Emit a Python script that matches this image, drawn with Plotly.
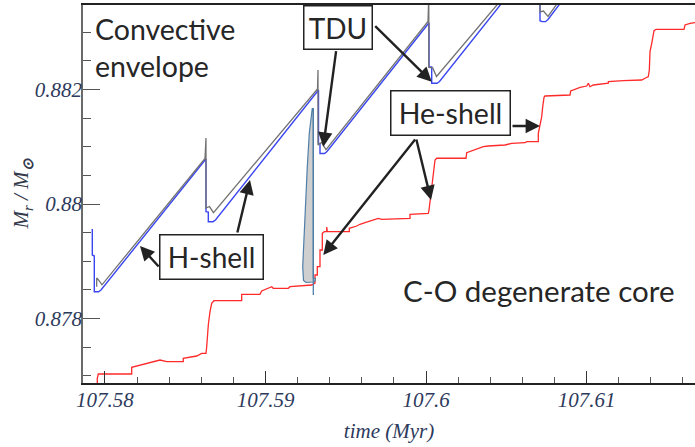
import plotly.graph_objects as go

# ---------------- data (time in Myr, mass coordinate in Msun) ----------------
core_t = [107.579520, 107.579520, 107.579583, 107.581663, 107.581663, 107.582074, 107.582598,
          107.583009, 107.583426, 107.583843, 107.584877, 107.584877, 107.585712, 107.586023,
          107.586291, 107.586335, 107.586372, 107.586435, 107.586540, 107.586646, 107.586790,
          107.588515, 107.588515, 107.589655, 107.589761, 107.590384, 107.590483, 107.591418,
          107.591524, 107.592875, 107.593081, 107.593081, 107.593224, 107.593224, 107.593392,
          107.593392, 107.593536, 107.593536, 107.593660, 107.593810, 107.593810, 107.593847,
          107.595218, 107.595218, 107.595678, 107.595884, 107.596195, 107.596507, 107.597024,
          107.597236, 107.598998, 107.598998, 107.600138, 107.600182, 107.600244, 107.600307,
          107.600450, 107.600556, 107.600662, 107.602487, 107.602530, 107.602842, 107.603253,
          107.603564, 107.603876, 107.604916, 107.605333, 107.606162, 107.606268, 107.606990,
          107.606990, 107.607096, 107.607202, 107.607264, 107.607346, 107.607408, 107.608965,
          107.609008, 107.609276, 107.609588, 107.610005, 107.610105, 107.610211, 107.610416,
          107.611351, 107.611351, 107.612285, 107.613431, 107.613637, 107.613842, 107.613905,
          107.613948, 107.614054, 107.614197, 107.614322, 107.616066, 107.616128, 107.616440,
          107.616876]
core_m = [0.876871, 0.876958, 0.877033, 0.877033, 0.877150, 0.877178, 0.877208,
          0.877248, 0.877277, 0.877248, 0.877248, 0.877307, 0.877347, 0.877394,
          0.877394, 0.877509, 0.877656, 0.877888, 0.878120, 0.878267, 0.878312,
          0.878312, 0.878424, 0.878424, 0.878482, 0.878557, 0.878529, 0.878529,
          0.878557, 0.878586, 0.878621, 0.878761, 0.878761, 0.878906, 0.878906,
          0.879197, 0.879197, 0.879489, 0.879517, 0.879517, 0.879599, 0.879517,
          0.879517, 0.879576, 0.879616, 0.879646, 0.879674, 0.879703, 0.879750,
          0.879733, 0.879750, 0.879820, 0.879838, 0.879895, 0.880052, 0.880127,
          0.880564, 0.880768, 0.880798, 0.880798, 0.880895, 0.880930, 0.880972,
          0.881000, 0.881012, 0.881030, 0.881059, 0.881070, 0.881087, 0.881087,
          0.881234, 0.881379, 0.881524, 0.881698, 0.881862, 0.881885, 0.881902,
          0.881972, 0.882002, 0.882037, 0.882059, 0.882107, 0.882047, 0.882077,
          0.882107, 0.882135, 0.882152, 0.882164, 0.882194, 0.882222, 0.882339,
          0.882658, 0.882805, 0.883025, 0.883049, 0.883049, 0.883124, 0.883154,
          0.883171]

hshell_t = [107.579209, 107.579209, 107.579333, 107.579333, 107.579595, 107.579751, 107.586260,
            107.586291, 107.586291, 107.586435, 107.586435, 107.586727, 107.586883, 107.593268,
            107.593299, 107.593299, 107.593392, 107.593392, 107.593673, 107.593828, 107.600151,
            107.600182, 107.600182, 107.600350, 107.600350, 107.600680, 107.600836, 107.607096,
            107.607096, 107.607221, 107.607439, 107.607594, 107.608653]
hshell_m = [0.879564, 0.879110, 0.879092, 0.878469, 0.878469, 0.878499, 0.880777,
            0.880777, 0.879866, 0.879860, 0.879691, 0.879691, 0.879721, 0.881990,
            0.881990, 0.881065, 0.881047, 0.880881, 0.880881, 0.880916, 0.883164,
            0.883164, 0.882396, 0.882391, 0.882107, 0.882107, 0.882138, 0.884346,
            0.883199, 0.883182, 0.883182, 0.883220, 0.883613]

env_t = [107.579483, 107.579483, 107.579595, 107.579813, 107.586229, 107.586291, 107.586291,
         107.586509, 107.586758, 107.593237, 107.593268, 107.593268, 107.593486, 107.593766,
         107.600120, 107.600169, 107.600169, 107.600412, 107.600649, 107.607096, 107.607096,
         107.607314, 107.607594, 107.608529]
env_m = [0.878557, 0.878708, 0.878674, 0.878590, 0.880794, 0.881152, 0.879930,
         0.879956, 0.879850, 0.882007, 0.882339, 0.881030, 0.881073, 0.880950,
         0.883185, 0.883648, 0.882382, 0.882374, 0.882225, 0.884363, 0.883351,
         0.883368, 0.883275, 0.883640]

pulse_t = [107.592913, 107.592975, 107.592975, 107.593100, 107.593081, 107.592975, 107.592520,
           107.592365, 107.592315, 107.592396, 107.592502, 107.592601, 107.592726, 107.592850,
           107.592913]
pulse_m = [0.881675, 0.881606, 0.878708, 0.878700, 0.878656, 0.878639, 0.878630,
           0.878665, 0.878906, 0.879489, 0.880070, 0.880651, 0.881239, 0.881553,
           0.881675]
pulse_edge_t = [107.592975, 107.592975]
pulse_edge_m = [0.881675, 0.878412]

x_tickvals = [107.58, 107.59, 107.60, 107.61]
x_ticktext = ["107.58", "107.59", "107.6", "107.61"]
y_tickvals = [0.878, 0.880, 0.882]
y_ticktext = ["0.878", "0.88", "0.882"]

# arrow tips (time, mass)
tdu_tips_t = [107.593598, 107.600350]
tdu_tips_m = [0.881000, 0.882135]
he_tips_t = [107.607096, 107.600307, 107.593598]
he_tips_m = [0.881361, 0.880070, 0.879110]
h_tips_t = [107.582180, 107.589032]
h_tips_m = [0.879267, 0.880419]

# ---------------- figure ----------------
fig = go.Figure()
fig.add_trace(go.Scatter(x=core_t, y=core_m, mode="lines",
                         line=dict(color="#ff2a2a", width=1.3), hoverinfo="skip"))
fig.add_trace(go.Scatter(x=hshell_t, y=hshell_m, mode="lines",
                         line=dict(color="#3a46f0", width=1.4), hoverinfo="skip"))
fig.add_trace(go.Scatter(x=env_t, y=env_m, mode="lines",
                         line=dict(color="#727272", width=1.3), hoverinfo="skip"))
fig.add_trace(go.Scatter(x=pulse_t, y=pulse_m, mode="lines", fill="toself",
                         fillcolor="#cfcfcf", line=dict(color="#4f7ea8", width=1.2),
                         hoverinfo="skip"))
fig.add_trace(go.Scatter(x=pulse_edge_t, y=pulse_edge_m, mode="lines",
                         line=dict(color="#4f7ea8", width=1.3), hoverinfo="skip"))

W, H = 695, 447
L, R, T, B = 83, 0, 5, 64
pw, ph = W - L - R, H - T - B


def px(xp):
    return (xp - L) / pw


def py(yp):
    return (H - B - yp) / ph


SERIF = "Liberation Serif, Times New Roman, serif"
tick_font = dict(family=SERIF, size=21, color="#2d3a5c", style="italic")

fig.update_layout(
    width=W, height=H,
    margin=dict(l=L, r=R, t=T, b=B, pad=0, autoexpand=False),
    paper_bgcolor="white", plot_bgcolor="white",
    showlegend=False,
    xaxis=dict(
        range=[107.57863, 107.61675], showgrid=False, zeroline=False, automargin=False,
        tickmode="array", tickvals=x_tickvals, ticktext=x_ticktext,
        ticks="inside", ticklen=12, tickwidth=1.3, tickcolor="#333",
        showline=True, linecolor="#222", linewidth=1.5, mirror=True,
        tickfont=tick_font, ticklabelstandoff=-3,
        minor=dict(tickmode="linear", tick0=107.58, dtick=0.002, ticks="inside",
                   ticklen=6, tickwidth=1.1, tickcolor="#555", showgrid=False),
        title=dict(text="time (Myr)", standoff=12,
                   font=dict(family=SERIF, size=21, color="#2d3a5c", style="italic")),
    ),
    yaxis=dict(
        range=[0.876876, 0.883473], showgrid=False, zeroline=False, automargin=False,
        tickmode="array", tickvals=y_tickvals, ticktext=y_ticktext,
        ticks="inside", ticklen=17, tickwidth=1.3, tickcolor="#555",
        showline=True, linecolor="#6a6a6a", linewidth=1.5,
        tickfont=tick_font, ticklabelstandoff=-5,
        minor=dict(tickmode="linear", tick0=0.878, dtick=0.0005, ticks="inside",
                   ticklen=8, tickwidth=1.1, tickcolor="#555", showgrid=False),
        title=dict(text="<i>M<sub>r</sub> / M</i><sub><b>⊙</b></sub>", standoff=0,
                   font=dict(family=SERIF, size=21, color="#333a4c", style="italic")),
    ),
)

arrow_style = dict(showarrow=True, arrowhead=2, arrowsize=1.2, arrowwidth=2.4,
                   arrowcolor="#222", xref="x", yref="y", text="")

# TDU arrows
for (t, m, ax, ay) in zip(tdu_tips_t, tdu_tips_m, [13, -58], [-97, -57]):
    fig.add_annotation(x=t, y=m, ax=ax, ay=ay, **arrow_style)
# He-shell arrows
for (t, m, ax, ay) in zip(he_tips_t, he_tips_m, [-29, -15, 93], [0, -62, -117]):
    fig.add_annotation(x=t, y=m, ax=ax, ay=ay, **arrow_style)
# H-shell arrows
for (t, m, ax, ay) in zip(h_tips_t, h_tips_m, [20, -13], [22, 54]):
    fig.add_annotation(x=t, y=m, ax=ax, ay=ay, **arrow_style)

label_font = dict(family="Lato", size=28, color="#262626")
box = dict(bordercolor="#222", borderwidth=1.5, borderpad=0, bgcolor="white",
           showarrow=False, xref="paper", yref="paper", xanchor="center", yanchor="middle",
           font=label_font)

fig.add_annotation(text="TDU", x=px(338), y=py(27.5), width=67, height=42, **box)
fig.add_annotation(text="He-shell", x=px(450.5), y=py(113), width=118, height=43,
                   **{**box, "font": dict(label_font, size=28.5)})
fig.add_annotation(text="H-shell", x=px(211.5), y=py(257), width=102, height=43, **box)

fig.add_annotation(text="Convective<br>envelope", x=px(93), y=py(48), xref="paper", yref="paper",
                   xanchor="left", yanchor="middle", align="left", showarrow=False,
                   font=dict(label_font, size=28.5))
fig.add_annotation(text="C-O degenerate core", x=px(539), y=py(290), xref="paper", yref="paper",
                   xanchor="center", yanchor="middle", showarrow=False,
                   font=dict(label_font, size=29.5))

fig.write_html("out.html", config={"displayModeBar": False},
               post_script="document.body.style.margin='0';document.body.style.overflow='hidden';")
